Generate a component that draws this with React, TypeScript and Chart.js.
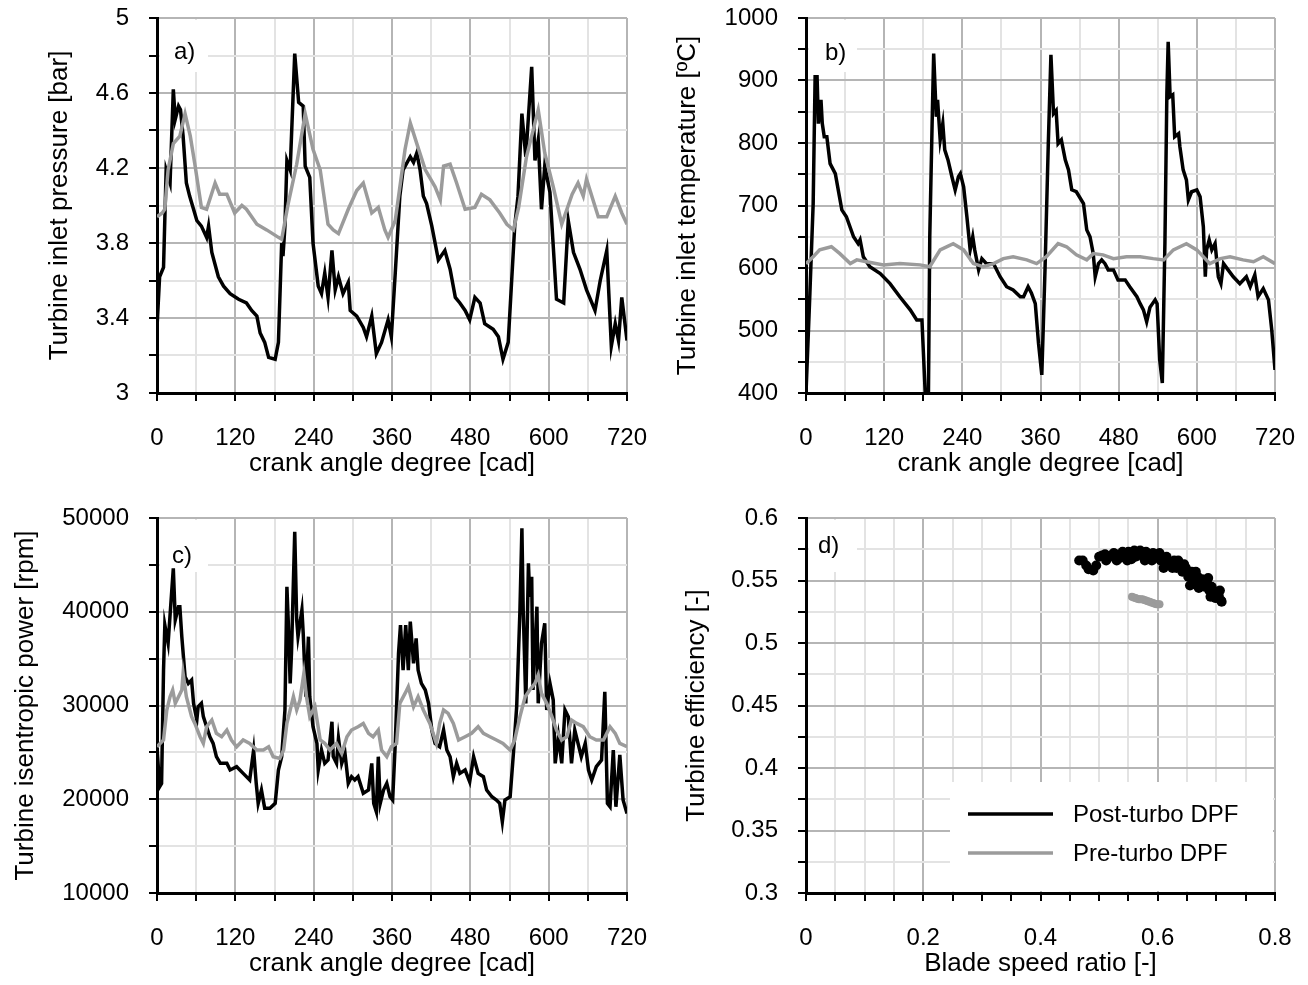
import React, { useEffect, useRef } from "react";
import { Chart, registerables } from "chart.js";

Chart.register(...registerables);

const FONT = '"Liberation Sans", Arial, Helvetica, sans-serif';
const POST_COLOR = "#000000";
const PRE_COLOR = "#9b9b9b";
const MAJOR_GRID = "#b5b5b5";
const MINOR_GRID = "#e3e3e3";

const SERIES_LABELS = ["Post-turbo DPF", "Pre-turbo DPF"];
const PANEL_LABELS = ["a)", "b)", "c)", "d)"];
const CAD_TITLE = "crank angle degree [cad]";

// ---- a) Turbine inlet pressure [bar]
const cadPostA = [0,4,10,14,20,25,28,33,36,40,45,50,56,61,68,76,79,84,94,102,112,125,137,145,153,158,165,171,181,186,191,193,196,199,204,211,217,224,227,234,239,247,252,257,262,268,273,278,285,293,296,306,316,321,329,336,344,354,359,365,372,377,388,393,398,403,408,413,421,431,441,449,457,464,472,479,487,495,502,515,523,530,538,548,553,559,565,574,579,584,589,594,602,612,623,630,638,648,658,671,679,689,696,702,707,712,720];
const pressPostA = [3.35,3.62,3.67,4.19,4.12,4.62,4.46,4.53,4.51,4.37,4.12,4.05,3.98,3.92,3.89,3.83,3.89,3.75,3.62,3.57,3.53,3.50,3.48,3.44,3.41,3.32,3.27,3.19,3.18,3.27,3.80,3.73,3.89,4.24,4.19,4.81,4.55,4.53,4.21,4.15,3.80,3.57,3.53,3.64,3.51,3.76,3.55,3.62,3.53,3.59,3.44,3.41,3.35,3.30,3.41,3.21,3.27,3.39,3.30,3.64,4.05,4.19,4.26,4.23,4.28,4.19,4.05,4.01,3.89,3.71,3.76,3.66,3.51,3.48,3.44,3.39,3.51,3.48,3.37,3.34,3.30,3.18,3.27,3.89,4.05,4.49,4.26,4.74,4.24,4.35,3.98,4.21,4.07,3.50,3.48,3.92,3.75,3.66,3.55,3.44,3.60,3.76,3.25,3.37,3.28,3.51,3.28];
const cadPreA = [0,8,12,17,25,35,43,51,58,68,76,89,96,107,119,130,137,153,168,186,191,201,214,227,239,250,262,270,278,293,306,316,329,339,349,354,365,380,388,398,411,426,434,439,449,459,472,487,497,510,525,536,546,554,566,584,594,607,620,636,645,653,658,676,689,702,712,720];
const pressPreA = [3.94,3.96,3.98,4.19,4.33,4.37,4.49,4.37,4.22,3.99,3.98,4.12,4.06,4.06,3.96,4.00,3.98,3.90,3.87,3.83,3.82,4.01,4.22,4.49,4.30,4.19,3.90,3.87,3.85,3.98,4.08,4.12,3.96,3.99,3.87,3.83,3.92,4.30,4.44,4.33,4.19,4.10,4.03,4.21,4.22,4.12,3.98,3.99,4.06,4.03,3.96,3.90,3.87,3.99,4.26,4.51,4.28,4.10,3.90,4.06,4.12,4.05,4.14,3.94,3.94,4.05,3.96,3.90];

// ---- b) Turbine inlet temperature [ºC]
const cadPostB = [0,6,11,14,17,19,23,25,28,32,37,45,55,62,73,80,83,88,98,114,129,144,160,170,178,183,188,190,194,196,200,202,206,210,213,218,224,229,234,237,242,247,252,256,259,265,270,277,288,298,308,318,329,334,341,346,352,357,362,367,372,376,380,384,387,392,398,403,408,415,426,431,436,441,444,449,454,459,464,472,479,490,497,508,513,518,523,528,536,539,543,547,551,554,556,559,563,566,572,574,579,584,587,592,600,605,610,613,615,619,623,628,633,637,641,648,656,666,676,682,689,694,702,710,715,720];
const tempPostB = [400,560,703,906,906,831,869,831,810,810,767,751,693,682,650,639,645,618,602,591,575,554,533,517,517,400,400,650,850,943,842,869,805,831,789,773,746,725,746,751,730,682,629,650,629,597,615,607,607,586,570,565,554,554,570,560,543,479,429,600,800,941,847,852,799,805,773,757,725,722,703,661,650,623,586,607,613,607,597,597,581,581,570,554,543,533,514,537,549,543,453,416,640,879,962,874,877,810,815,794,757,741,709,722,725,714,666,586,629,645,629,639,586,575,607,597,586,575,586,570,589,554,567,549,501,437];
const cadPreB = [0,11,21,39,52,68,78,93,119,144,175,190,206,226,242,257,272,288,303,318,339,354,369,387,400,415,431,441,456,472,492,513,533,549,564,584,600,620,636,651,671,687,702,720];
const tempPreB = [607,618,629,634,623,607,613,610,605,607,605,602,629,639,629,607,602,607,615,618,613,607,618,639,634,621,613,623,621,615,618,618,615,613,629,639,629,607,615,618,613,610,618,607];

// ---- c) Turbine isentropic power [rpm]
const cadPostC = [0,4,7,10,12,17,25,28,33,35,38,43,48,53,56,61,63,68,71,76,81,86,91,97,107,112,122,132,142,148,152,155,160,165,173,181,186,191,196,199,201,204,206,211,214,216,222,224,228,232,234,239,245,247,252,257,262,268,270,275,278,283,288,293,298,303,308,316,324,329,332,336,339,342,347,352,357,361,365,370,373,377,381,385,388,393,397,400,405,411,416,421,426,433,439,444,449,454,459,464,472,479,485,492,500,505,513,520,525,529,533,541,546,551,556,559,561,565,569,571,574,576,582,584,589,594,597,602,607,610,615,620,625,630,635,640,645,650,656,661,666,673,681,686,690,694,699,703,709,714,720];
const powerPostC = [25500,21340,21690,33780,38580,36630,44630,39120,40540,40540,37340,33070,32360,32720,30230,28450,29870,30230,28810,27740,26670,25960,24540,23830,23830,23120,23470,22760,22050,25250,21690,19560,20980,19030,19030,19560,23120,24540,29520,42670,39120,32360,35560,48540,39120,37340,40190,37700,30940,37340,30940,27740,25960,23120,25250,23830,24180,28270,24540,23830,26490,23830,24890,21700,22410,22050,22410,20630,20980,23830,19560,18670,24540,19560,20980,21700,20270,19920,25960,35560,38580,33780,38580,33780,38940,34500,37160,33780,32360,31650,30230,27380,25960,25600,27380,25250,24540,22410,23830,22760,23120,21870,24540,22760,22410,20980,20270,19920,19560,17600,19920,20270,24890,29870,40190,48900,40190,30230,45160,41600,43740,31650,40540,30230,36630,38760,29520,32360,30580,23830,26670,23830,29520,28810,23830,27380,25960,24540,25960,23120,22050,23470,24180,31470,19560,19200,25250,19200,24720,19920,18490];
const cadPreC = [0,10,15,20,24,28,33,38,40,45,53,58,66,71,76,84,91,99,107,114,122,132,142,153,163,171,178,188,194,199,204,209,214,219,225,229,234,242,250,257,265,275,283,291,298,308,316,324,331,339,344,352,359,367,372,380,385,393,400,408,418,428,433,439,446,454,462,472,482,492,500,510,520,530,541,548,556,564,571,579,584,589,597,605,612,620,628,635,643,653,663,673,684,694,702,709,720];
const powerPreC = [25600,26320,29520,30940,31650,30230,30940,31650,33430,30940,28810,28090,26670,25960,27740,28450,27030,26670,27380,26320,25600,26320,25960,25250,25250,25600,24540,24360,25250,28090,29520,30940,29520,30580,33430,30940,28810,29870,26320,25960,25250,25960,24890,26670,27380,27740,28090,27030,26670,27380,25250,24540,25600,25960,30230,31290,32000,29870,30940,29520,28090,25960,28090,29520,29160,28090,26320,26670,27030,27740,27030,26670,26320,25960,25250,26320,28810,30940,31650,32360,33250,31290,30230,28810,27380,26320,26670,28450,28090,27740,26670,26320,26320,27740,27030,25960,25600];

// ---- d) Turbine efficiency [-] vs Blade speed ratio [-]
const bsrPostD = [0.466,0.472,0.478,0.482,0.490,0.495,0.500,0.505,0.510,0.515,0.520,0.525,0.530,0.535,0.540,0.545,0.550,0.555,0.560,0.565,0.570,0.575,0.580,0.585,0.590,0.595,0.600,0.605,0.610,0.612,0.618,0.622,0.628,0.632,0.638,0.642,0.648,0.652,0.655,0.658,0.662,0.668,0.672,0.676,0.680,0.684,0.688,0.690,0.692,0.695,0.698,0.700,0.704,0.708,0.709,0.512,0.528,0.548,0.562,0.578,0.592,0.603,0.615,0.625,0.635,0.645,0.650,0.660,0.665,0.670,0.678,0.686,0.694,0.702,0.706];
const effPostD = [0.566,0.566,0.562,0.559,0.558,0.562,0.569,0.570,0.571,0.568,0.570,0.572,0.566,0.568,0.573,0.570,0.573,0.567,0.574,0.572,0.574,0.569,0.573,0.570,0.566,0.571,0.569,0.566,0.560,0.568,0.565,0.562,0.566,0.560,0.563,0.557,0.560,0.553,0.546,0.557,0.551,0.553,0.548,0.551,0.545,0.548,0.542,0.537,0.545,0.539,0.536,0.541,0.538,0.534,0.533,0.566,0.571,0.566,0.569,0.566,0.572,0.572,0.569,0.560,0.566,0.563,0.557,0.547,0.557,0.544,0.546,0.552,0.541,0.536,0.542];
const bsrPreD = [0.556,0.559,0.562,0.565,0.568,0.571,0.574,0.577,0.580,0.583,0.586,0.589,0.592,0.595,0.598,0.601,0.603];
const effPreD = [0.537,0.5365,0.536,0.5355,0.535,0.535,0.535,0.5345,0.534,0.5335,0.533,0.5325,0.532,0.5315,0.531,0.531,0.531];

const xy = (xs: number[], ys: number[]) => xs.map((x, i) => ({ x, y: ys[i] }));

type AxisOpts = {
  min: number;
  max: number;
  step: number;
  major: (v: number) => boolean;
  fmt: (v: number) => string;
  title: string;
  horizontal: boolean;
  size: number;
  titlePad: number;
  tickPad: number;
};

function axis(o: AxisOpts) {
  return {
    type: "linear",
    min: o.min,
    max: o.max,
    afterFit: (s: any) => {
      if (o.horizontal) s.height = o.size;
      else s.width = o.size;
      s.paddingTop = 0;
      s.paddingBottom = 0;
      s.paddingLeft = 0;
      s.paddingRight = 0;
    },
    border: { display: true, color: "#000", width: 3 },
    grid: {
      color: (c: any) => (c.tick && o.major(c.tick.value) ? MAJOR_GRID : MINOR_GRID),
      lineWidth: 2,
      drawTicks: true,
      tickLength: 8,
      tickColor: "#000",
      tickWidth: 2,
    },
    ticks: {
      stepSize: o.step,
      maxTicksLimit: 200,
      autoSkip: false,
      maxRotation: 0,
      minRotation: 0,
      padding: o.tickPad,
      color: "#000",
      font: { family: FONT, size: 24 },
      callback: (v: any) => (o.major(Number(v)) ? o.fmt(Number(v)) : ""),
    },
    title: {
      display: true,
      text: o.title,
      color: "#000",
      font: { family: FONT, size: 26 },
      padding: o.horizontal ? { top: 0, bottom: o.titlePad } : { top: o.titlePad, bottom: 0 },
    },
  };
}

function decor(label: string, dx: number, dy: number, legend: boolean) {
  return {
    id: "decor",
    beforeDatasetsDraw(chart: any) {
      const { ctx, chartArea: a } = chart;
      ctx.save();
      ctx.fillStyle = "#fff";
      ctx.fillRect(a.left + 3, a.top + 2, 48, 52);
      ctx.fillStyle = "#000";
      ctx.font = `24px ${FONT}`;
      ctx.textBaseline = "middle";
      ctx.textAlign = "left";
      ctx.fillText(label, a.left + dx, a.top + dy);
      if (legend) {
        const lx = a.left + 144;
        const ly = a.top + 264;
        ctx.fillStyle = "#fff";
        ctx.fillRect(lx, ly, a.right - 2 - lx, a.bottom - 2 - ly);
        chart.data.datasets.forEach((ds: any, i: number) => {
          const y = a.top + 296 + i * 39;
          ctx.strokeStyle = ds.borderColor;
          ctx.lineWidth = 3.5;
          ctx.beginPath();
          ctx.moveTo(a.left + 162, y);
          ctx.lineTo(a.left + 247, y);
          ctx.stroke();
          ctx.fillStyle = "#000";
          ctx.fillText(ds.label, a.left + 267, y + 1);
        });
      }
      ctx.restore();
    },
  };
}

const cadMajor = (v: number) => Math.round(v) % 120 === 0;
const cadFmt = (v: number) => String(Math.round(v));

function lineSets(postX: number[], postY: number[], preX: number[], preY: number[]) {
  return [
    { label: SERIES_LABELS[0], data: xy(postX, postY), showLine: true, borderColor: POST_COLOR, backgroundColor: POST_COLOR, borderWidth: 3.5, pointRadius: 0, order: 2 },
    { label: SERIES_LABELS[1], data: xy(preX, preY), showLine: true, borderColor: PRE_COLOR, backgroundColor: PRE_COLOR, borderWidth: 3.5, pointRadius: 0, order: 1 },
  ];
}

function baseOptions(padding: any, x: any, y: any) {
  return {
    animation: false,
    responsive: false,
    devicePixelRatio: 1,
    layout: { padding },
    plugins: { legend: { display: false }, tooltip: { enabled: false } },
    scales: { x, y },
  };
}

const configA = () => ({
  type: "scatter",
  data: { datasets: lineSets(cadPostA, pressPostA, cadPreA, pressPreA) },
  options: baseOptions(
    { left: 0, top: 18, right: 23, bottom: 0 },
    axis({ min: 0, max: 720, step: 60, major: cadMajor, fmt: cadFmt, title: CAD_TITLE, horizontal: true, size: 107, titlePad: 21, tickPad: 23 }),
    axis({ min: 3, max: 5, step: 0.2, major: (v) => Math.round(v * 10) % 4 === 2, fmt: (v) => String(Math.round(v * 10) / 10), title: "Turbine inlet pressure [bar]", horizontal: false, size: 157, titlePad: 44, tickPad: 20 })
  ),
  plugins: [decor(PANEL_LABELS[0], 17, 34, false)],
});

const configB = () => ({
  type: "scatter",
  data: { datasets: lineSets(cadPostB, tempPostB, cadPreB, tempPreB) },
  options: baseOptions(
    { left: 0, top: 18, right: 33, bottom: 0 },
    axis({ min: 0, max: 720, step: 60, major: cadMajor, fmt: cadFmt, title: CAD_TITLE, horizontal: true, size: 107, titlePad: 21, tickPad: 23 }),
    axis({ min: 400, max: 1000, step: 50, major: (v) => Math.round(v) % 100 === 0, fmt: (v) => String(Math.round(v)), title: "Turbine inlet temperature [ºC]", horizontal: false, size: 156, titlePad: 22, tickPad: 20 })
  ),
  plugins: [decor(PANEL_LABELS[1], 19, 35, false)],
});

const configC = () => ({
  type: "scatter",
  data: { datasets: lineSets(cadPostC, powerPostC, cadPreC, powerPreC) },
  options: baseOptions(
    { left: 0, top: 18, right: 23, bottom: 0 },
    axis({ min: 0, max: 720, step: 60, major: cadMajor, fmt: cadFmt, title: CAD_TITLE, horizontal: true, size: 92, titlePad: 6, tickPad: 23 }),
    axis({ min: 10000, max: 50000, step: 5000, major: (v) => Math.round(v) % 10000 === 0, fmt: (v) => String(Math.round(v)), title: "Turbine isentropic power [rpm]", horizontal: false, size: 157, titlePad: 10, tickPad: 20 })
  ),
  plugins: [decor(PANEL_LABELS[2], 15, 38, false)],
});

const configD = () => ({
  type: "scatter",
  data: {
    datasets: [
      { label: SERIES_LABELS[0], data: xy(bsrPostD, effPostD), borderColor: POST_COLOR, backgroundColor: POST_COLOR, pointRadius: 5, pointBorderWidth: 0, order: 2 },
      { label: SERIES_LABELS[1], data: xy(bsrPreD, effPreD), borderColor: PRE_COLOR, backgroundColor: PRE_COLOR, pointRadius: 4, pointBorderWidth: 0, order: 1 },
    ],
  },
  options: baseOptions(
    { left: 0, top: 18, right: 33, bottom: 0 },
    axis({ min: 0, max: 0.8, step: 0.05, major: (v) => Math.round(v * 100) % 20 === 0, fmt: (v) => String(Math.round(v * 10) / 10), title: "Blade speed ratio [-]", horizontal: true, size: 92, titlePad: 6, tickPad: 23 }),
    axis({ min: 0.3, max: 0.6, step: 0.025, major: (v) => Math.round(v * 1000) % 50 === 0, fmt: (v) => String(Math.round(v * 100) / 100), title: "Turbine efficiency [-]", horizontal: false, size: 156, titlePad: 31, tickPad: 20 })
  ),
  plugins: [decor(PANEL_LABELS[3], 12, 28, true)],
});

function Panel({ make, left, top, width, height }: { make: () => any; left: number; top: number; width: number; height: number }) {
  const ref = useRef<HTMLCanvasElement | null>(null);
  useEffect(() => {
    if (!ref.current) return;
    const chart = new Chart(ref.current, make());
    return () => chart.destroy();
  }, []);
  return (
    <canvas
      ref={ref}
      width={width}
      height={height}
      style={{ position: "absolute", left, top, width, height, display: "block" }}
    />
  );
}

export default function App() {
  return (
    <div style={{ position: "absolute", left: 0, top: 0, width: 1308, height: 985, background: "#fff", overflow: "hidden" }}>
      <Panel make={configA} left={0} top={0} width={650} height={500} />
      <Panel make={configB} left={650} top={0} width={658} height={500} />
      <Panel make={configC} left={0} top={500} width={650} height={485} />
      <Panel make={configD} left={650} top={500} width={658} height={485} />
    </div>
  );
}
